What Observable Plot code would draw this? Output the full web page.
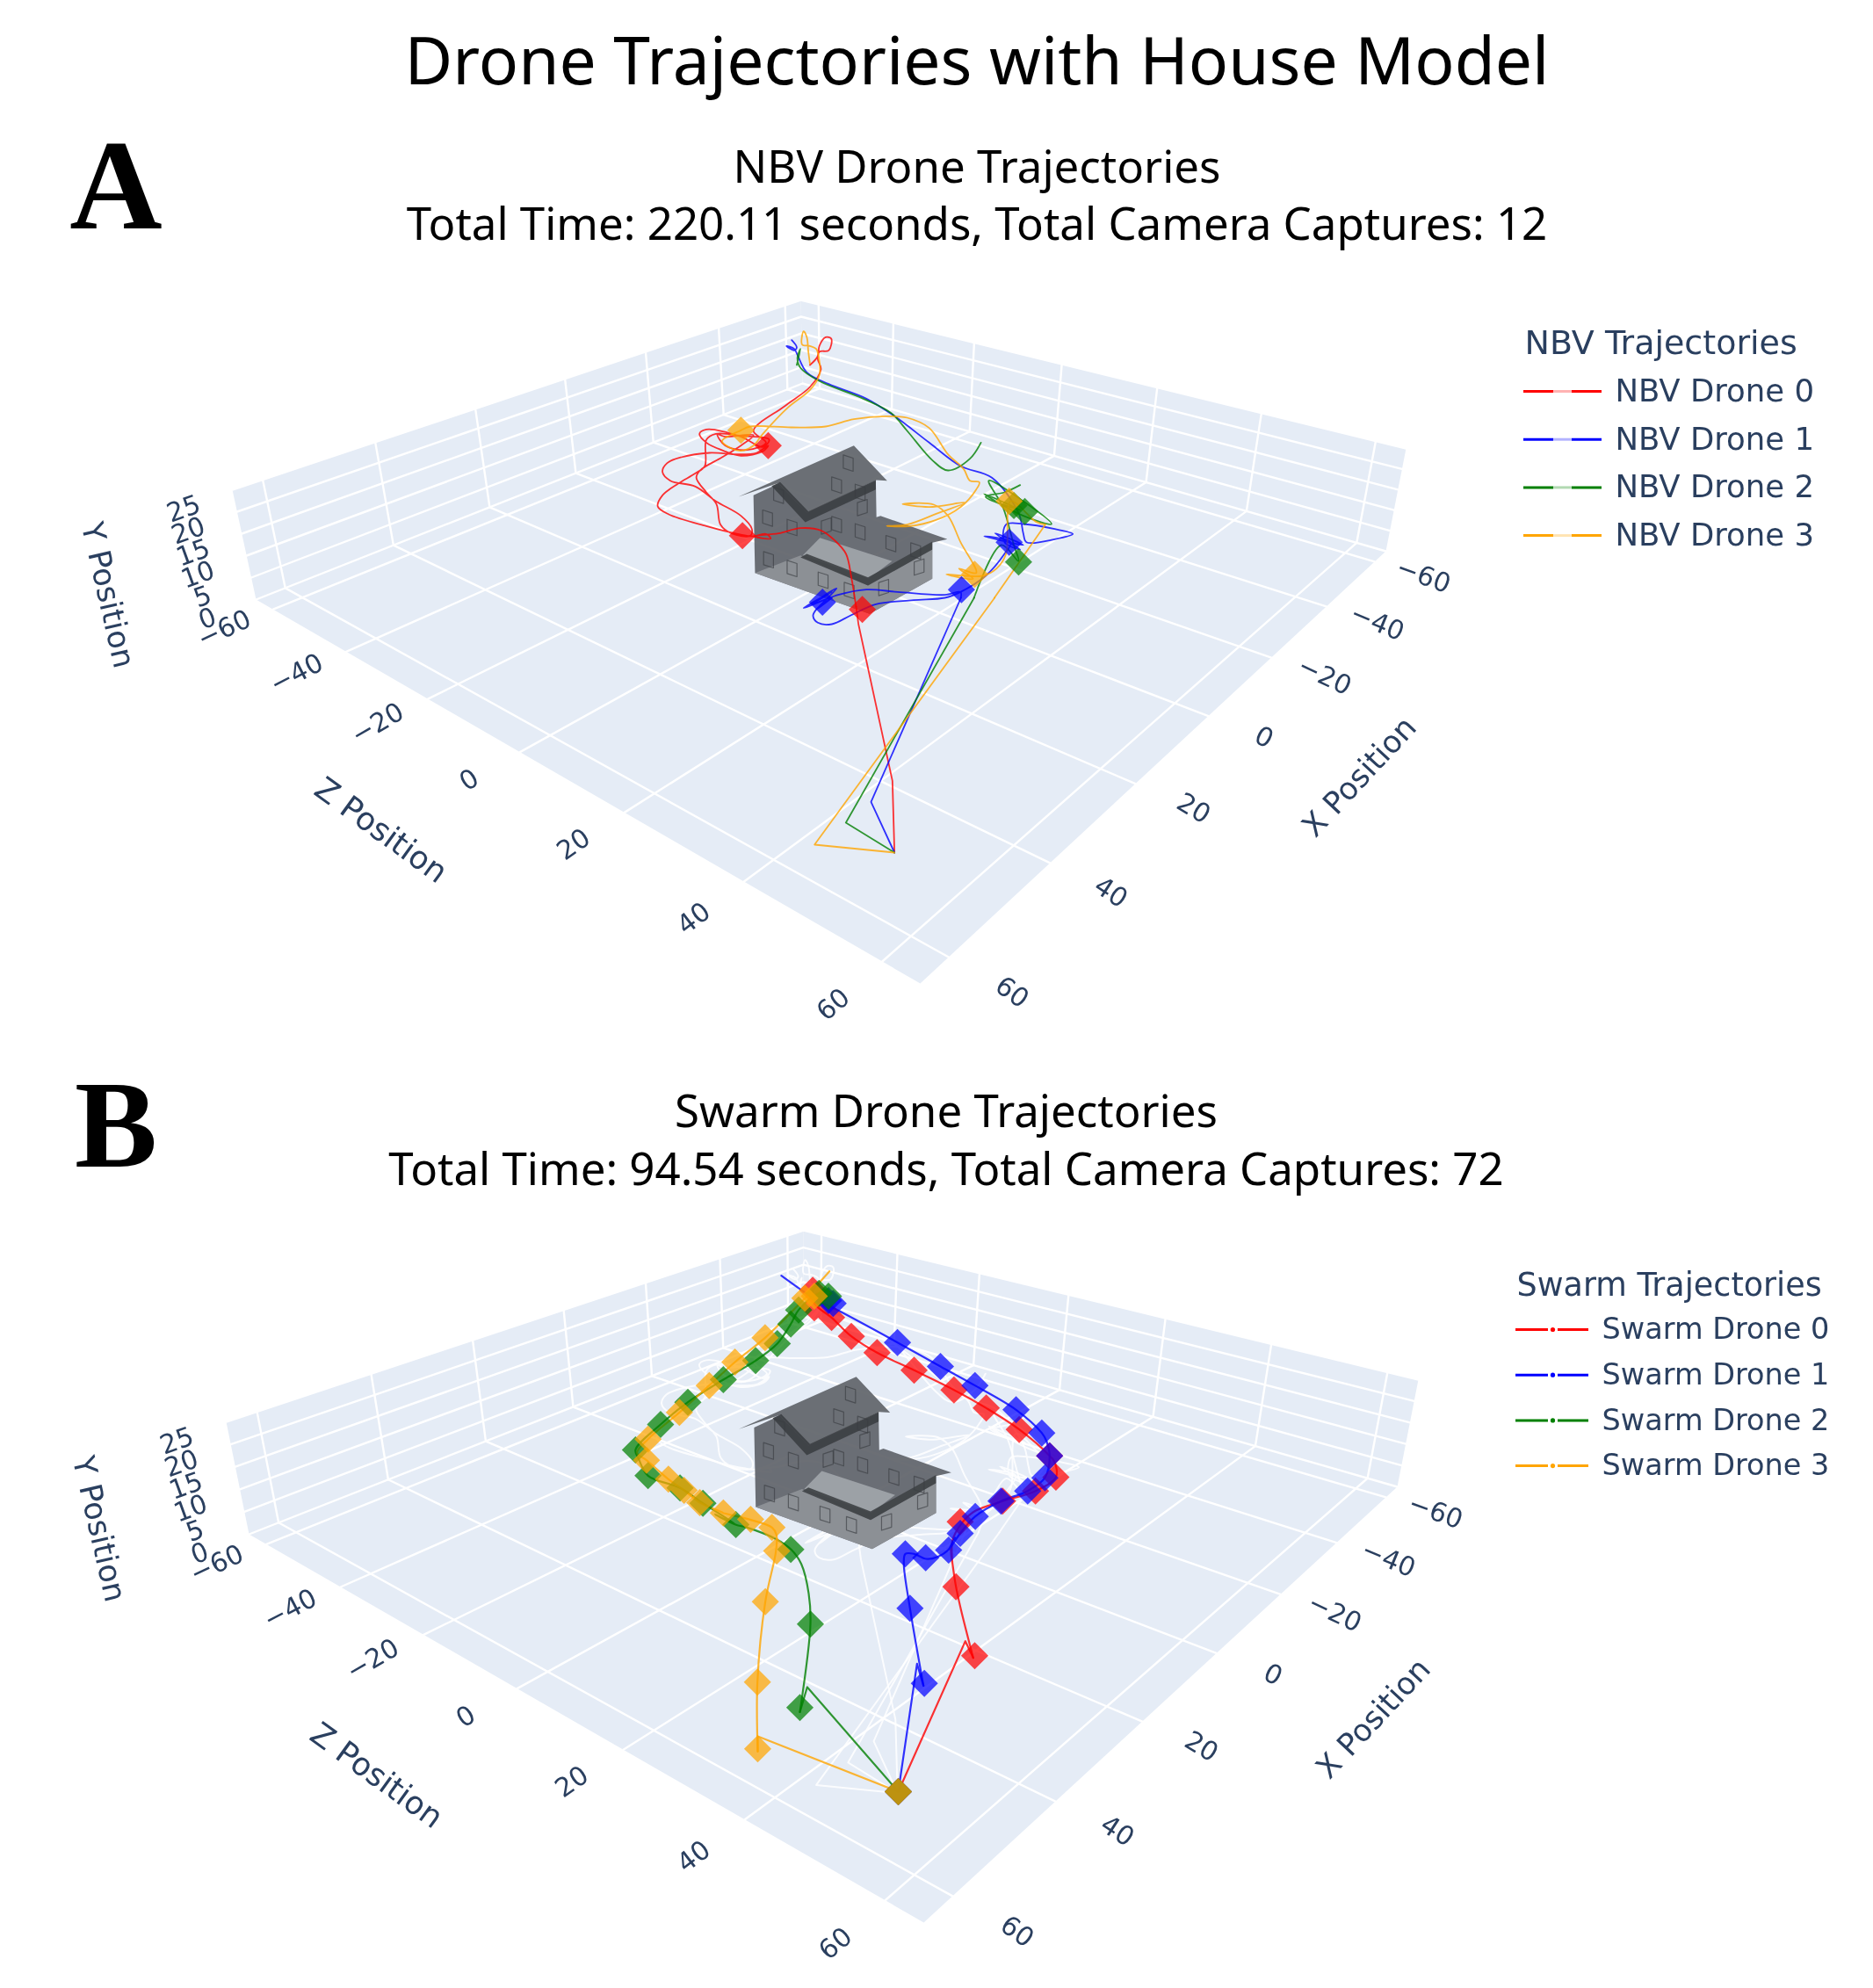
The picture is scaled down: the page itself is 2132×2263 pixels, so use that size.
<!DOCTYPE html>
<html><head><meta charset="utf-8">
<script src="https://cdn.jsdelivr.net/npm/d3@7"></script>
<script src="https://cdn.jsdelivr.net/npm/@observablehq/plot@0.6"></script>
<style>
html,body{margin:0;padding:0;background:#fff;overflow:hidden}
#page{position:relative;width:2132px;height:2263px;overflow:hidden;font-family:"Noto Sans",sans-serif;color:#000}
.t{position:absolute;white-space:nowrap;transform:translate(-50%,-50%);line-height:1}
.letter{font-family:"Liberation Serif",serif;font-weight:700}
.panel{position:absolute;left:0;filter:blur(0.5px)}
.panel svg{display:block;max-width:none}
</style></head>
<body><div id="page">
<div class="t" style="left:1112px;top:67px;font-size:75px">Drone Trajectories with House Model</div>
<div class="t letter" style="left:132px;top:211px;font-size:146px">A</div>
<div class="t" style="left:1112px;top:188px;font-size:51px">NBV Drone Trajectories</div>
<div class="t" style="left:1112px;top:253px;font-size:51px">Total Time: 220.11 seconds, Total Camera Captures: 12</div>
<div class="t letter" style="left:132px;top:1280px;font-size:141px">B</div>
<div class="t" style="left:1077px;top:1263px;font-size:51px">Swarm Drone Trajectories</div>
<div class="t" style="left:1077px;top:1329px;font-size:51px">Total Time: 94.54 seconds, Total Camera Captures: 72</div>
</div>
<script>
// ---- axis values ----
const xTicks=[-60,-40,-20,0,20,40,60];
const zTicks=[-60,-40,-20,0,20,40,60];
const yTicks=[0,5,10,15,20,25];
const axisEnd=65, yEnd=25;
const droneColors=["red","blue","green","orange"];
const nbvNames=["NBV Drone 0","NBV Drone 1","NBV Drone 2","NBV Drone 3"];
const swarmNames=["Swarm Drone 0","Swarm Drone 1","Swarm Drone 2","Swarm Drone 3"];

// ---- readings are stored in the units of the crop they were read from ----
const cropA ={x0:700,y0:330,kx:2.8,ky:3};
const cropA2={x0:800,y0:680,kx:3,ky:3};
const cropB ={x0:680,y0:1400,kx:2.8,ky:3};
const cropB2={x0:800,y0:1700,kx:3,ky:3};
const at=(c,pts)=>pts.map(([a,b])=>({x:c.x0+a/c.kx,y:c.y0+b/c.ky}));

// ---- NBV trajectories ----
const nbvRedLeg=[[653,870],[646,625],[530,90],[522,30]];
const nbvRed=[[767,1080],[752,980],[735,900],[700,855],[655,820],[590,812],[520,830],[440,840],[495,848],[480,832],[440,840],[390,832],[290,805],[170,765],[135,738],[150,700],[200,660],[255,625],[285,600],[290,510],[320,490],[400,497],[490,510],[470,535],[400,500],[290,475],[268,490],[290,520],[350,550],[400,565],[470,550],[487,530],[450,555],[390,560],[300,555],[210,570],[165,590],[150,620],[175,650],[255,670],[320,720],[400,770],[435,815],[430,838],[370,830],[335,800],[322,730],[290,690],[258,640],[270,615],[340,570],[400,530],[440,495],[350,500],[325,492],[350,530],[420,545],[480,520],[440,480],[540,395],[620,330],[655,270],[645,235],[650,210],[680,205],[688,165],[670,160],[650,190],[645,225],[620,255]];
const nbvBlueLeg=[[653,870],[573,697],[880,0]];
const nbvBlue=[[1101,1050],[1100,1030],[1050,1040],[900,1030],[800,1022],[710,1040],[600,1085],[690,1030],[620,1075],[705,1018],[640,1090],[690,1050],[640,1090],[630,1112],[645,1135],[690,1140],[750,1110],[830,1072],[950,1058],[1050,1050],[1100,1030],[1180,975],[1240,900],[1260,860],[1175,840],[1300,870],[1210,830],[1290,885],[1240,860],[1245,800],[1300,798],[1400,815],[1458,832],[1400,850],[1310,860],[1300,830],[1285,760],[1200,640],[1100,600],[1000,520],[890,430],[800,370],[680,320],[610,280],[580,220],[570,200],[545,190],[570,205],[578,195],[562,170]];
const nbvGreenLeg=[[653,870],[487,768],[925,0]];
const nbvGreen=[[1143,1050],[1230,870],[1285,925],[1270,870],[1235,740],[1190,650],[1300,720],[1390,798],[1300,770],[1175,695],[1290,750],[1180,705],[1240,690],[1290,665]];
const nbvGreenTail=[[1165,520],[1130,575],[1060,615],[1010,580],[930,480],[880,420],[790,370],[650,310],[590,265],[580,230],[590,200],[578,255]];
const nbvOrangeLeg=[[653,870],[380,843],[995,0]];
const nbvOrangeLeg2=[[1208,1050],[1370,800]];
const nbvOrange=[[1370,800],[1340,790],[1260,720],[1245,900],[1215,950],[1170,975],[1055,970],[1140,985],[1095,950],[1150,965],[1100,860],[1060,770],[1015,732],[915,730],[1000,740],[1115,725],[1030,760],[930,800],[865,805],[940,805],[1020,785],[1100,740],[1150,680],[1160,655],[1130,650],[1110,610],[1060,560],[1000,470],[930,435],[860,430],[760,440],[670,465],[560,468],[430,465],[400,478],[340,515],[370,540],[400,548],[440,530],[470,490],[550,400],[620,340],[650,290],[650,240],[640,200],[620,190],[595,185],[600,140],[610,160],[615,210],[620,250]];
const nbvRedShots=[[487,530],[405,838],[787,1090]];
const nbvBlueShots=[[660,1065],[1103,1022],[1255,860]];
const nbvGreenShots=[[1285,928],[1305,755],[1270,735]];
const nbvOrangeShots=[[400,478],[1145,970],[1255,720]];

// ---- Swarm trajectories ----
const swarmRedLeg=[[666,1017],[895,503],[922,560]];
const swarmRedNear=[[922,560],[880,395],[863,317],[850,230],[845,190]];
const swarmRed=[[1130,1140],[1130,1060],[1160,1000],[1200,960],[1290,925],[1395,890],[1460,843],[1455,790],[1440,770],[1343,680],[1238,607],[1135,545],[1008,478],[890,418],[808,362],[745,298],[690,250],[685,205]];
const swarmBlueLeg=[[666,1017],[730,580],[752,655]];
const swarmBlueNear=[[752,655],[706,391],[685,240],[690,205],[720,205],[760,222],[800,215],[838,190],[860,150]];
const swarmBlue=[[1118,1092],[1155,1035],[1203,977],[1285,925],[1370,890],[1425,845],[1440,770],[1430,720],[1415,692],[1333,613],[1202,530],[1092,465],[955,383],[750,265],[700,240],[585,155]];
const swarmGreenLeg=[[666,1017],[355,660],[330,745]];
const swarmGreenNear=[[330,745],[366,445],[360,340],[335,240],[300,190],[250,155],[150,115],[110,105],[40,70]];
const swarmGreen=[[440,1005],[335,932],[262,880],[160,838],[130,780],[120,750],[200,663],[287,587],[400,510],[503,445],[572,387],[615,320],[640,272],[705,215],[735,225]];
const swarmOrangeLeg=[[666,1017],[186,828],[186,880]];
const swarmOrangeNear=[[186,880],[185,643],[212,368],[248,197],[250,140],[235,115],[160,88],[65,65]];
const swarmOrange=[[400,965],[325,930],[275,888],[225,850],[155,785],[125,760],[160,713],[260,622],[355,530],[437,450],[533,367],[660,232],[738,140]];
const swarmRedShots=[[685,205],[690,265],[745,298],[808,362],[890,418],[1008,478],[1135,545],[1238,607],[1343,680],[1440,770],[1460,843],[1395,890],[1290,925],[1155,995]];
const swarmRedShotsNear=[[666,1017],[863,317],[927,553]];
const swarmBlueShots=[[735,240],[750,250],[955,383],[1092,465],[1202,530],[1333,613],[1415,692],[1440,770],[1425,845],[1370,890],[1285,925],[1203,977],[1155,1035],[1118,1092],[1045,1118],[980,1105]];
const swarmBlueShotsNear=[[666,1017],[706,391],[755,647]];
const swarmGreenShots=[[705,215],[735,225],[640,272],[615,320],[572,387],[503,445],[400,510],[287,587],[200,663],[120,750],[160,838],[262,880],[335,932],[440,1005],[615,1090]];
const swarmGreenShotsNear=[[666,1017],[366,445],[330,730]];
const swarmOrangeShots=[[690,225],[660,232],[533,367],[437,450],[355,530],[260,622],[160,713],[155,785],[225,850],[275,888],[325,930],[400,965],[487,987],[555,1015],[570,1095]];
const swarmOrangeShotsNear=[[666,1017],[212,368],[185,643],[186,871]];

// ---- house outline ----
const houseShapes=[
 {fill:"#5f6369",op:.92,pts:[[440,700],[520,660],[610,760],[830,650],[832,775],[845,770],[1058,850],[1010,862],[1010,985],[810,1105],[445,965]]},
 {fill:"#a2a6ac",op:.9,pts:[[652,845],[882,925],[807,985],[597,905]]},
 {fill:"#8f9298",op:.92,pts:[[445,965],[590,905],[805,1008],[1010,885],[1010,985],[810,1105]]},
 {fill:"#404347",op:.92,pts:[[590,912],[610,900],[805,980],[1010,858],[1010,885],[805,1008]]},
 {fill:"#63676c",op:.94,pts:[[392,705],[760,530],[866,650],[832,648],[610,760],[520,658]]},
 {fill:"#3c3f43",op:.92,pts:[[498,668],[525,655],[615,755],[830,648],[830,680],[605,792]]}
];
const houseWindows=[[520,700,1],[485,778,1],[563,810,1],[672,805,-1],[705,800,1],[780,825,1],[878,865,1],[957,890,1],[742,590,1],[705,665,1],[780,690,1],[787,742,-1],[488,920,1],[563,950,1],[662,990,1],[745,1025,1],[855,1015,-1],[968,945,-1]];

const nbvPaths=[
 {c:0,pts:at(cropA2,nbvRedLeg),curve:"linear"},{c:0,pts:at(cropA,nbvRed),curve:"catmull-rom"},
 {c:1,pts:at(cropA2,nbvBlueLeg),curve:"linear"},{c:1,pts:at(cropA,nbvBlue),curve:"catmull-rom"},
 {c:2,pts:at(cropA2,nbvGreenLeg),curve:"linear"},{c:2,pts:at(cropA,nbvGreen),curve:"catmull-rom"},{c:2,pts:at(cropA,nbvGreenTail),curve:"catmull-rom"},
 {c:3,pts:at(cropA2,nbvOrangeLeg),curve:"linear"},{c:3,pts:at(cropA,nbvOrangeLeg2),curve:"linear"},{c:3,pts:at(cropA,nbvOrange),curve:"catmull-rom"}
];
const nbvShots=[at(cropA,nbvRedShots),at(cropA,nbvBlueShots),at(cropA,nbvGreenShots),at(cropA,nbvOrangeShots)];
const swarmPaths=[
 {c:0,pts:at(cropB2,swarmRedLeg),curve:"linear"},{c:0,pts:[...at(cropB2,swarmRedNear),...at(cropB,swarmRed)],curve:"catmull-rom"},
 {c:1,pts:at(cropB2,swarmBlueLeg),curve:"linear"},{c:1,pts:[...at(cropB2,swarmBlueNear),...at(cropB,swarmBlue)],curve:"catmull-rom"},
 {c:2,pts:at(cropB2,swarmGreenLeg),curve:"linear"},{c:2,pts:[...at(cropB2,swarmGreenNear),...at(cropB,swarmGreen)],curve:"catmull-rom"},
 {c:3,pts:at(cropB2,swarmOrangeLeg),curve:"linear"},{c:3,pts:[...at(cropB2,swarmOrangeNear),...at(cropB,swarmOrange)],curve:"catmull-rom"}
];
const swarmShots=[
 [...at(cropB,swarmRedShots),...at(cropB2,swarmRedShotsNear)],
 [...at(cropB,swarmBlueShots),...at(cropB2,swarmBlueShotsNear)],
 [...at(cropB,swarmGreenShots),...at(cropB2,swarmGreenShotsNear)],
 [...at(cropB,swarmOrangeShots),...at(cropB2,swarmOrangeShotsNear)]
];
// panel A's view of the scene mapped into panel B's view
const toB=p=>({x:1051+(p.x-1047)*1.017,y:2191+(p.y-1117)*1.023});
const same=p=>p;

function projector(b,l,f,r){ // floor plane: x=-end,z=-end -> b ; +,- -> l ; +,+ -> f ; -,+ -> r
 const dx1=l[0]-f[0],dx2=r[0]-f[0],dx3=b[0]-l[0]+f[0]-r[0];
 const dy1=l[1]-f[1],dy2=r[1]-f[1],dy3=b[1]-l[1]+f[1]-r[1];
 const den=dx1*dy2-dx2*dy1,g=(dx3*dy2-dx2*dy3)/den,h=(dx1*dy3-dx3*dy1)/den;
 const A=l[0]-b[0]+g*l[0],B=r[0]-b[0]+h*r[0],D=l[1]-b[1]+g*l[1],E=r[1]-b[1]+h*r[1];
 return (x,z)=>{const u=(x+axisEnd)/(2*axisEnd),v=(z+axisEnd)/(2*axisEnd),w=g*u+h*v+1;
  return {x:(A*u+B*v+b[0])/w,y:(D*u+E*v+b[1])/w};};
}
const tickText=v=>v<0?"\u2212"+(-v):String(v);

function panel(o){
 const {L,Lt,B,Bt,R,Rt,F}=o, P=projector(B,L,F,R);
 const lerp=(a,b,t)=>({x:a[0]+(b[0]-a[0])*t,y:a[1]+(b[1]-a[1])*t});
 const poly=(id,...pp)=>pp.map(p=>({id,x:p[0],y:p[1]}));
 const bg=[...poly("floor",L,F,R,B),...poly("left",L,Lt,Bt,B),...poly("right",B,Bt,Rt,R)];
 const grid=[];
 for(const t of xTicks){ const a=P(t,-axisEnd),b=P(t,axisEnd);
  grid.push({id:"x"+t,...a},{id:"x"+t,...b});
  const s=(a.x-B[0])/(L[0]-B[0]);
  grid.push({id:"xw"+t,...a},{id:"xw"+t,x:a.x+(Bt[0]-B[0])*(1-s)+(Lt[0]-L[0])*s,y:a.y+(Bt[1]-B[1])*(1-s)+(Lt[1]-L[1])*s});
 }
 for(const t of zTicks){ const a=P(-axisEnd,t),b=P(axisEnd,t);
  grid.push({id:"z"+t,...a},{id:"z"+t,...b});
  const s=(a.x-B[0])/(R[0]-B[0]);
  grid.push({id:"zw"+t,...a},{id:"zw"+t,x:a.x+(Bt[0]-B[0])*(1-s)+(Rt[0]-R[0])*s,y:a.y+(Bt[1]-B[1])*(1-s)+(Rt[1]-R[1])*s});
 }
 for(const t of yTicks){ const f=t/yEnd;
  grid.push({id:"y"+t,...lerp(L,Lt,f)},{id:"y"+t,...lerp(B,Bt,f)},{id:"y"+t,...lerp(R,Rt,f)});
 }
 const labelOut=8;
 const labels=[
  ...zTicks.map(t=>({...P(axisEnd+labelOut,t),s:tickText(t),r:-32.5-t*0.125})),
  ...xTicks.map(t=>({...P(t,axisEnd+labelOut),s:tickText(t),r:28+t*0.133})),
  ...yTicks.map(t=>{const b=P(axisEnd+labelOut,-axisEnd);return {x:b.x+(Lt[0]-L[0])*t/yEnd,y:b.y+(Lt[1]-L[1])*t/yEnd,s:String(t),r:-20};})
 ];
 const marks=[
  Plot.line(bg,{x:"x",y:"y",z:"id",fill:"#e5ecf6",stroke:"none"}),
  Plot.line(grid,{x:"x",y:"y",z:"id",stroke:"white",strokeWidth:2.4}),
 ];
 // other method's paths show through as white traces
 if(o.ghosts) for(const g of o.ghosts) marks.push(Plot.line(g.pts.map(o.view),{x:"x",y:"y",stroke:"white",strokeWidth:2,strokeOpacity:.85,curve:g.curve}));
 // house
 houseShapes.forEach(s=>marks.push(Plot.line(at(cropA,s.pts).map(o.view),{x:"x",y:"y",fill:s.fill,fillOpacity:s.op,stroke:"none"})));
 const panes=houseWindows.flatMap(([a,b,s],i)=>{
   const c=at(cropA,[[a,b]])[0],w=5.6,h=7.5,k=.32*s;
   return [[-w,-h],[w,-h],[w,h],[-w,h],[-w,-h]].map(([dx,dy])=>o.view({x:c.x+dx,y:c.y+dy+k*dx})).map(p=>({...p,id:i}));
 });
 marks.push(Plot.line(panes,{x:"x",y:"y",z:"id",stroke:"#3b3e42",strokeWidth:1.2,strokeOpacity:.65}));
 // trajectories and camera captures
 o.paths.forEach(p=>marks.push(Plot.line(p.pts,{x:"x",y:"y",stroke:droneColors[p.c],strokeWidth:o.lw,strokeOpacity:.8,curve:p.curve})));
 o.shots.forEach((s,i)=>marks.push(Plot.dot(s,{x:"x",y:"y",symbol:"diamond2",r:14,fill:droneColors[i],fillOpacity:.72,stroke:"none"})));
 // axis text
 marks.push(Plot.text(labels,{x:"x",y:"y",text:"s",rotate:"r",fontSize:o.tickSize,fill:"#2a3f5f",fontFamily:"DejaVu Sans",lineAnchor:"middle"}));
 marks.push(Plot.text(o.axisTitles,{x:"x",y:"y",text:"s",rotate:"r",fontSize:"size",fill:"#2a3f5f",fontFamily:"DejaVu Sans",lineAnchor:"middle"}));
 // legend
 const lg=o.legend;
 const items=lg.names.map((s,i)=>({s,c:droneColors[i],y:lg.y0+i*lg.dy}));
 lg.spans.forEach(([x1,x2,op])=>marks.push(Plot.ruleY(items,{y:"y",x1:()=>x1,x2:()=>x2,stroke:"c",strokeWidth:3,strokeOpacity:op})));
 if(lg.dot) marks.push(Plot.dot(items,{x:()=>lg.dot,y:"y",r:2.6,fill:"c",stroke:"none"}));
 marks.push(Plot.text(items,{x:()=>lg.textX,y:"y",text:"s",textAnchor:"start",fontSize:lg.size,fill:"#2a3f5f",fontFamily:"DejaVu Sans",lineAnchor:"middle"}));
 marks.push(Plot.text([{x:lg.titleX,y:lg.titleY,s:lg.title}],{x:"x",y:"y",text:"s",textAnchor:"start",fontSize:lg.titleSize,fill:"#2a3f5f",fontFamily:"DejaVu Sans",lineAnchor:"middle"}));
 const fig=Plot.plot({width:2132,height:o.bottom-o.top,margin:0,
  x:{domain:[0,2132],range:[0,2132],axis:null},
  y:{domain:[o.top,o.bottom],range:[0,o.bottom-o.top],axis:null},
  color:{type:"identity"},style:{background:"transparent",overflow:"visible"},marks});
 const d=document.createElement("div");d.className="panel";d.style.top=o.top+"px";d.appendChild(fig);
 document.getElementById("page").appendChild(d);
}

panel({top:300,bottom:1190,
 L:[291,682],Lt:[264,557],B:[913,436],Bt:[911,341],R:[1577,627],Rt:[1600,510],F:[1047,1119],
 paths:nbvPaths,shots:nbvShots,view:same,lw:1.8,tickSize:30,
 axisTitles:[{x:433,y:945,s:"Z Position",r:36,size:36},{x:1547,y:884,s:"X Position",r:-47,size:35},{x:122,y:677,s:"Y Position",r:77,size:35}],
 legend:{names:nbvNames,y0:445,dy:54.7,spans:[[1734,1768,1],[1768,1789,.3],[1789,1823,1]],textX:1838,size:35.5,title:"NBV Trajectories",titleX:1735,titleY:390,titleSize:38}
});
panel({top:1370,bottom:2263,
 L:[283,1746],Lt:[257,1618],B:[914,1498],Bt:[914,1400],R:[1590,1692],Rt:[1614,1570],F:[1051,2188],
 paths:swarmPaths,shots:swarmShots,view:toB,lw:2.2,tickSize:30,ghosts:nbvPaths,
 axisTitles:[{x:428,y:2021,s:"Z Position",r:36,size:36},{x:1563,y:1956,s:"X Position",r:-47,size:35},{x:112,y:1740,s:"Y Position",r:77,size:35}],
 legend:{names:swarmNames,y0:1513,dy:51.7,spans:[[1725,1762,1],[1773,1808,1]],dot:1767,textX:1823,size:33.5,title:"Swarm Trajectories",titleX:1726,titleY:1463,titleSize:36.5}
});
</script>
</body></html>
